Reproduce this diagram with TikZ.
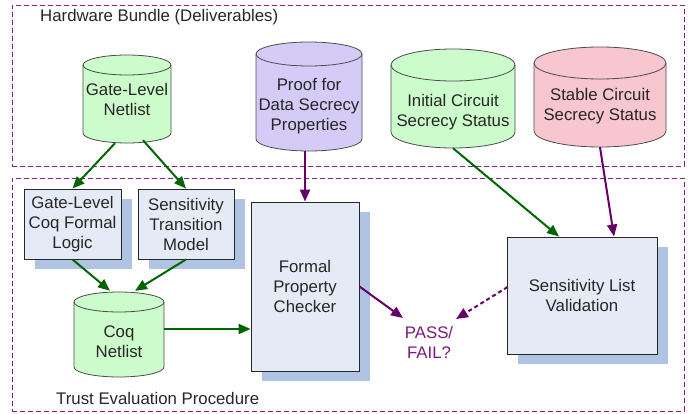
\documentclass[tikz,border=0pt]{standalone}
\usepackage{fontspec}
\setmainfont{Liberation Sans}
\usetikzlibrary{arrows.meta,calc,shadows}
\definecolor{cgreen}{HTML}{CCFCCC}
\definecolor{cpurple}{HTML}{D4CCF6}
\definecolor{cpink}{HTML}{F8C6CE}
\definecolor{boxfill}{HTML}{E4EBF7}
\definecolor{shadowc}{HTML}{AFC4E3}
\definecolor{agreen}{HTML}{006600}
\definecolor{apurple}{HTML}{660066}
\definecolor{framec}{HTML}{8B1A8B}
\definecolor{txtc}{HTML}{262626}
\definecolor{passc}{HTML}{7A1A7A}
\tikzset{
  txt/.style={align=center, inner sep=0pt, text=txtc, font=\fontsize{16.8}{20}\selectfont},
  cylline/.style={draw=black!70, line width=0.8pt},
  procbox/.style={draw=black!85, line width=0.9pt, fill=boxfill, align=center, text=txtc,
    font=\fontsize{16.8}{20}\selectfont,
    general shadow={fill=shadowc, shadow xshift=10.5pt, shadow yshift=-10pt}},
  frame/.style={draw=framec, line width=0.8pt, dash pattern=on 5pt off 3pt, inner sep=0pt},
  garrow/.style={draw=agreen, line width=2pt, -{Triangle[length=12pt,width=10pt]}},
  parrow/.style={draw=apurple, line width=2pt, -{Triangle[length=12pt,width=10pt]}},
}
\newcommand\cyl[9]{%
  \path[cylline, fill=#7] ({#2-#5},{-(#3+#6)}) -- ({#2-#5},{-(#4-#6)})
    arc[start angle=180,end angle=360,x radius=#5,y radius=#6]
    -- ({#2+#5},{-(#3+#6)})
    arc[start angle=0,end angle=180,x radius=#5,y radius=#6] -- cycle;
  \draw[cylline] ({#2-#5},{-(#3+#6)}) arc[start angle=180,end angle=360,x radius=#5,y radius=#6];
  \node[inner sep=0pt, minimum width={2*#5}, minimum height={#4-#3}] (#1) at ({#2},{-(#3+#4)/2}) {};
  \node[txt] (#1-t) at ({#2},{-#8}) {#9};
}
\begin{document}
\begin{tikzpicture}[x=1pt,y=1pt]
\useasboundingbox (0,0) rectangle (697,-414);
% frames
\node[frame, minimum width=672, minimum height=161] (hwframe) at (348,-85.5) {};
\node[frame, minimum width=672, minimum height=233] (teframe) at (348,-294.5) {};
\node[txt, anchor=west] (hwtitle) at (40,-17) {Hardware Bundle (Deliverables)};
\node[txt, anchor=west] (tetitle) at (56,-398) {Trust Evaluation Procedure};
% cylinders
\cyl{gln}{127}{55}{143}{44}{10}{cgreen}{99}{Gate-Level\\Netlist}
\cyl{proof}{309}{42}{151}{53}{12}{cpurple}{106}{Proof for\\Data Secrecy\\Properties}
\cyl{init}{453}{49}{148}{62}{16}{cgreen}{112}{Initial Circuit\\Secrecy Status}
\cyl{stab}{600}{47}{147}{66}{16}{cpink}{106}{Stable Circuit\\Secrecy Status}
\cyl{coq}{119}{292}{377}{45}{10}{cgreen}{342}{Coq\\Netlist}
% boxes
\node[procbox, minimum width=97, minimum height=70] (gcl) at (72.5,-224) {Gate-Level\\Coq Formal\\Logic};
\node[procbox, minimum width=96, minimum height=70] (stm) at (186,-224) {Sensitivity\\Transition\\Model};
\node[procbox, minimum width=108, minimum height=169] (fpc) at (305,-286.5) {Formal\\Property\\Checker};
\node[procbox, minimum width=150, minimum height=117] (slv) at (582,-295.5) {Sensitivity List\\Validation};
\node[txt, text=passc] (pass) at (429,-342) {PASS/\\FAIL?};
% connectors
\draw[garrow] ($(gln.south)+(-12,0)$) -- (gcl.north);
\draw[garrow] ($(gln.south)+(16,3)$) -- (stm.north);
\draw[parrow] (proof.south -| fpc.north) -- (fpc.north);
\draw[garrow] (gcl.south) -- ($(coq.north)+(-9,1)$);
\draw[garrow] (stm.south) -- ($(coq.north)+(16,1)$);
\draw[garrow] ($(coq.east)+(0,5.5)$) coordinate (ce) -- (ce -| fpc.west);
\draw[garrow] (init.south) -- ($(slv.north)+(-23,0)$);
\draw[parrow] (stab.south) -- ($(slv.north)+(32,0)$);
\draw[parrow] (fpc.east) -- ($(pass.center)+(-26,24)$);
\draw[parrow, dash pattern=on 4pt off 3pt] ($(slv.west)+(1,8.5)$) -- ($(pass.center)+(27,23)$);
\end{tikzpicture}
\end{document}
